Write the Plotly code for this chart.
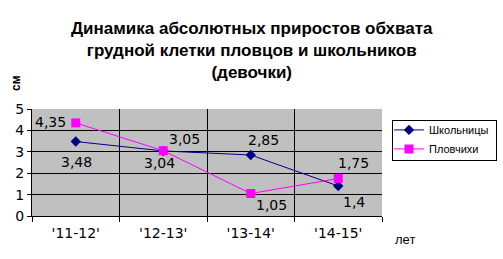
import plotly.graph_objects as go

categories = ["'11-12'", "'12-13'", "'13-14'", "'14-15'"]
schoolgirls = [3.48, 3.04, 2.85, 1.4]
swimmers = [4.35, 3.05, 1.05, 1.75]
series_names = ["Школьницы", "Пловчихи"]
y_ticks = [0, 1, 2, 3, 4, 5]

# label offsets (px) for data labels
school_shift = [(1, -20), (-4, -12), (13, 15), (16, -16)]
swim_shift = [(-25, 1), (21, 12), (21, -11), (15, 16)]

def fmt(v):
    return f"{v:g}".replace(".", ",")

fig = go.Figure()
fig.add_trace(go.Scatter(
    x=categories, y=schoolgirls, name=series_names[0], mode="lines+markers",
    line=dict(color="#000080", width=1),
    marker=dict(symbol="diamond", size=8, color="#000080"),
))
fig.add_trace(go.Scatter(
    x=categories, y=swimmers, name=series_names[1], mode="lines+markers",
    line=dict(color="#FF00FF", width=1),
    marker=dict(symbol="square", size=9, color="#FF00FF"),
))

annotations = []
for vals, shifts in ((schoolgirls, school_shift), (swimmers, swim_shift)):
    for c, v, (dx, dy) in zip(categories, vals, shifts):
        annotations.append(dict(
            x=c, y=v, xref="x", yref="y", text=fmt(v), showarrow=False,
            xshift=dx, yshift=dy,
            font=dict(family="DejaVu Sans", size=14, color="black"),
        ))

annotations.append(dict(
    text="Динамика абсолютных приростов обхвата<br>грудной клетки пловцов и школьников<br>(девочки)",
    x=0.629, y=1.86, xref="paper", yref="paper", xanchor="center", yanchor="top",
    showarrow=False, align="center",
    font=dict(family="Liberation Sans", size=17, color="black", weight="bold"),
))
annotations.append(dict(
    text="см", x=0, y=1, xref="paper", yref="paper", xanchor="center", yanchor="middle",
    xshift=-16, yshift=26, textangle=-90, showarrow=False,
    font=dict(family="Liberation Sans", size=12, color="black", weight="bold"),
))
annotations.append(dict(
    text="лет", x=1, y=0, xref="paper", yref="paper", xanchor="left", yanchor="middle",
    xshift=11, yshift=-23, showarrow=False,
    font=dict(family="Liberation Sans", size=13, color="black"),
))
# legend frame
annotations.append(dict(
    text=" ", x=1.0286, y=0.898, xref="paper", yref="paper", xanchor="left", yanchor="top",
    width=103, height=39, borderpad=0, borderwidth=1, bordercolor="black",
    bgcolor="rgba(0,0,0,0)", showarrow=False,
))

fig.update_layout(
    width=503, height=259,
    margin=dict(l=32, r=121, t=109, b=42.5, autoexpand=False),
    paper_bgcolor="white", plot_bgcolor="#C0C0C0",
    showlegend=True,
    legend=dict(
        x=1.02, y=0.94, xanchor="left", yanchor="top",
        borderwidth=0, bgcolor="rgba(0,0,0,0)",
        font=dict(family="Liberation Sans", size=11, color="black"),
        tracegroupgap=0, itemwidth=30,
    ),
    annotations=annotations,
    xaxis=dict(
        type="category", tickson="boundaries", showgrid=True, gridcolor="black", gridwidth=1,
        showline=True, linecolor="black", linewidth=1, ticks="outside", ticklen=5,
        tickcolor="black", tickfont=dict(family="DejaVu Sans", size=14, color="black"),
        range=[-0.5, 3.5], fixedrange=True, ticklabelstandoff=4,
    ),
    yaxis=dict(
        range=[0, 5], tickvals=y_ticks, showgrid=True, gridcolor="black", gridwidth=1,
        showline=True, linecolor="black", linewidth=1, ticks="outside", ticklen=4,
        tickcolor="black", tickfont=dict(family="DejaVu Sans", size=14, color="black"),
        zeroline=False,
    ),
)

fig.write_html("out.html")
